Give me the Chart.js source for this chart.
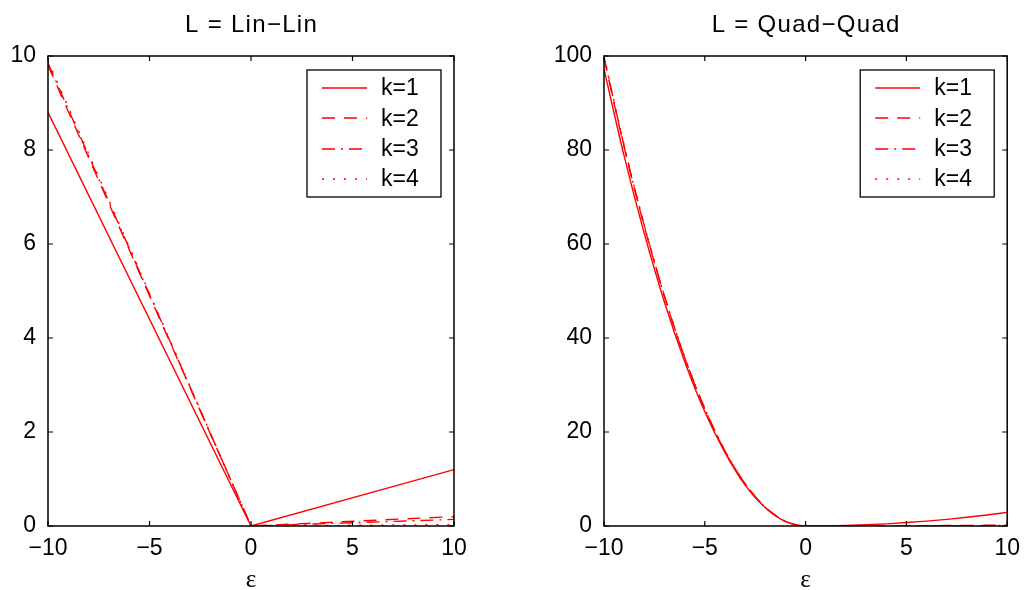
<!DOCTYPE html>
<html>
<head>
<meta charset="utf-8">
<script src="https://cdn.jsdelivr.net/npm/chart.js@4.4.1/dist/chart.umd.min.js"></script>
<style>
html, body { margin: 0; padding: 0; background: #fff; width: 1029px; height: 590px; overflow: hidden; }
.c { position: absolute; top: 0; height: 590px; }
#w1 { left: 0; width: 514px; }
#w2 { left: 514px; width: 515px; }
</style>
</head>
<body>
<div id="w1" class="c"><canvas id="c1"></canvas></div>
<div id="w2" class="c"><canvas id="c2"></canvas></div>
<script>
// ---- Data ----
const seriesLabels = ['k=1', 'k=2', 'k=3', 'k=4'];

// Left panel: L = Lin-Lin
const linX = [-10, 0, 10];
const linK1 = [8.8, 0, 1.2];
const linK2 = [9.8, 0, 0.2];
const linK3 = [9.85, 0, 0.14];
const linK4 = [9.9, 0, 0.03];

// Right panel: L = Quad-Quad
const quadX = [-10, -9, -8, -7, -6, -5, -4, -3, -2, -1, 0, 1, 2, 3, 4, 5, 6, 7, 8, 9, 10];
const quadK1 = [97.2, 78.7, 62.2, 47.6, 35.0, 24.3, 15.6, 8.7, 3.9, 0.97, 0, 0.03, 0.12, 0.26, 0.46, 0.73, 1.04, 1.42, 1.86, 2.35, 2.9];
const quadK2 = [99.5, 80.6, 63.7, 48.8, 35.8, 24.9, 15.9, 9.0, 4.0, 1.0, 0, 0.002, 0.008, 0.018, 0.032, 0.05, 0.072, 0.098, 0.128, 0.162, 0.2];
const quadK3 = [99.8, 80.8, 63.9, 48.9, 35.9, 25.0, 16.0, 9.0, 4.0, 1.0, 0, 0.001, 0.004, 0.009, 0.016, 0.025, 0.036, 0.049, 0.064, 0.081, 0.1];
const quadK4 = [100, 81, 64, 49, 36, 25, 16, 9, 4, 1, 0, 0.0004, 0.0016, 0.0036, 0.0064, 0.01, 0.0144, 0.0196, 0.0256, 0.0324, 0.04];

const xTicks = [-10, -5, 0, 5, 10];
const linYTicks = [0, 2, 4, 6, 8, 10];
const quadYTicks = [0, 20, 40, 60, 80, 100];

const titles = ['L = Lin\u2212Lin', 'L = Quad\u2212Quad'];
const xAxisLabel = '\u03b5';

// ---- Styles ----
const RED = '#ff0000';
const dashes = [[], [13, 9], [13, 6, 2, 6], [2, 9]];
const SANS = '"Liberation Sans", Arial, Helvetica, sans-serif';
const SERIF = '"Liberation Serif", "Times New Roman", serif';

function mkData(xs, ys) { return xs.map((x, i) => ({ x: x, y: ys[i] })); }

function mkDatasets(xs, list, smooth) {
  return list.map((ys, i) => ({
    label: seriesLabels[i],
    data: mkData(xs, ys),
    borderColor: RED,
    backgroundColor: RED,
    borderWidth: 1.4,
    borderDash: dashes[i],
    pointRadius: 0,
    fill: false,
    tension: 0,
    cubicInterpolationMode: smooth ? 'monotone' : 'default'
  }));
}

const fmt = v => (v < 0 ? '\u2212' + Math.abs(v) : String(v));

const framePlugin = {
  id: 'frame',
  afterDatasetsDraw(chart, args, opts) {
    const ctx = chart.ctx;
    const a = chart.chartArea;
    const xs = chart.scales.x, ys = chart.scales.y;
    ctx.save();
    ctx.strokeStyle = '#000';
    ctx.lineWidth = 1.5;
    ctx.beginPath();
    ctx.rect(a.left, a.top, a.right - a.left, a.bottom - a.top);
    ctx.stroke();
    const tl = 5;
    ctx.lineWidth = 1.2;
    ctx.beginPath();
    opts.xTicks.forEach(v => {
      const p = xs.getPixelForValue(v);
      ctx.moveTo(p, a.bottom); ctx.lineTo(p, a.bottom - tl);
      ctx.moveTo(p, a.top); ctx.lineTo(p, a.top + tl);
    });
    opts.yTicks.forEach(v => {
      const p = ys.getPixelForValue(v);
      ctx.moveTo(a.left, p); ctx.lineTo(a.left + tl, p);
      ctx.moveTo(a.right, p); ctx.lineTo(a.right - tl, p);
    });
    ctx.stroke();

    // title
    ctx.fillStyle = '#000';
    ctx.font = '24px ' + SANS;
    ctx.textAlign = 'center';
    ctx.textBaseline = 'alphabetic';
    try { ctx.letterSpacing = '1.3px'; } catch (e) {}
    ctx.fillText(opts.title, (a.left + a.right) / 2 + 0.6, 32);
    try { ctx.letterSpacing = '0px'; } catch (e) {}

    // legend
    const bw = 134, bh = 127;
    const bx = a.right - 13 - bw, by = a.top + 14;
    ctx.fillStyle = '#fff';
    ctx.fillRect(bx, by, bw, bh);
    ctx.lineWidth = 1.3;
    ctx.strokeStyle = '#000';
    ctx.strokeRect(bx, by, bw, bh);
    chart.data.datasets.forEach((ds, i) => {
      const yy = by + 18 + i * 30.3;
      ctx.strokeStyle = RED;
      ctx.lineWidth = 1.4;
      ctx.setLineDash(ds.borderDash || []);
      ctx.beginPath();
      ctx.moveTo(bx + 15, Math.round(yy));
      ctx.lineTo(bx + 60, Math.round(yy));
      ctx.stroke();
      ctx.setLineDash([]);
      ctx.fillStyle = '#000';
      ctx.font = '23px ' + SANS;
      ctx.textAlign = 'left';
      ctx.textBaseline = 'middle';
      ctx.fillText(ds.label, bx + 74, yy + 1);
    });
    ctx.restore();
  }
};

function mkChart(id, xs, list, yTicks, ymax, yw, padRight, title, smooth) {
  return new Chart(document.getElementById(id), {
    type: 'line',
    data: { datasets: mkDatasets(xs, list, smooth) },
    options: {
      responsive: true,
      maintainAspectRatio: false,
      animation: false,
      events: [],
      layout: { padding: { top: 56, right: padRight, left: 0, bottom: 0 } },
      plugins: {
        legend: { display: false },
        tooltip: { enabled: false },
        title: { display: false },
        frame: { xTicks: xTicks, yTicks: yTicks, title: title }
      },
      scales: {
        x: {
          type: 'linear', min: -10, max: 10,
          afterBuildTicks: s => { s.ticks = xTicks.map(v => ({ value: v })); },
          afterFit: s => { s.height = 64; },
          grid: { display: false, drawTicks: false },
          border: { display: false },
          ticks: { color: '#000', font: { family: SANS, size: 23 }, padding: 9, maxRotation: 0, autoSkip: false, callback: v => fmt(v) },
          title: { display: true, text: xAxisLabel, color: '#000', font: { family: SERIF, size: 25, lineHeight: 0.75 }, padding: { top: 0, bottom: 0 } }
        },
        y: {
          type: 'linear', min: 0, max: ymax,
          afterBuildTicks: s => { s.ticks = yTicks.map(v => ({ value: v })); },
          afterFit: s => { s.width = yw; },
          grid: { display: false, drawTicks: false },
          border: { display: false },
          ticks: { color: '#000', font: { family: SANS, size: 23 }, padding: 12, autoSkip: false, callback: v => fmt(v) }
        }
      }
    },
    plugins: [framePlugin]
  });
}

mkChart('c1', linX, [linK1, linK2, linK3, linK4], linYTicks, 10, 48, 60, titles[0], false);
mkChart('c2', quadX, [quadK1, quadK2, quadK3, quadK4], quadYTicks, 100, 90, 16, titles[1], true);
</script>
</body>
</html>
